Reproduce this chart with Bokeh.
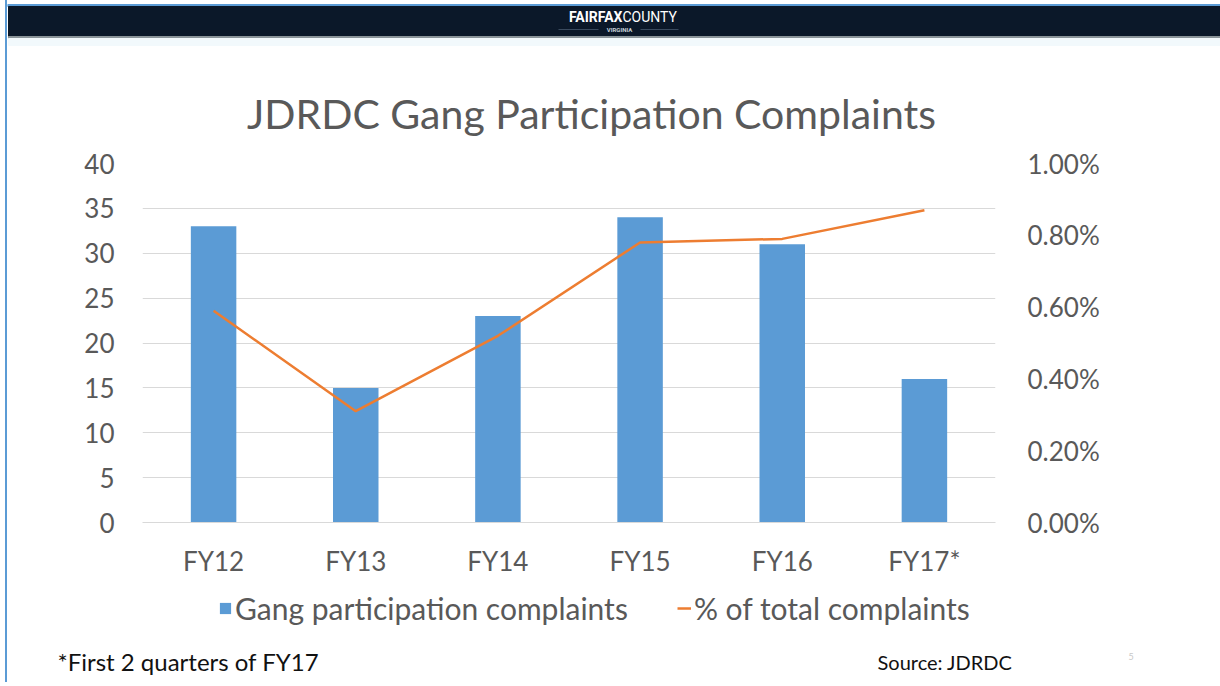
from bokeh.plotting import figure
from bokeh.models import (Range1d, FactorRange, LinearAxis, FixedTicker,
                          PrintfTickFormatter, Legend, LegendItem, ColumnDataSource)
from bokeh.layouts import column
from bokeh.embed import file_html
from bokeh.resources import INLINE
from bokeh.core.properties import value

# ---------------- data ----------------
categories = ["FY12", "FY13", "FY14", "FY15", "FY16", "FY17*"]
complaints = [33, 15, 23, 34, 31, 16]
pct_of_total = [0.59, 0.31, 0.52, 0.78, 0.79, 0.87]   # percent
left_ticks = [0, 5, 10, 15, 20, 25, 30, 35, 40]
right_ticks = [0.0, 0.2, 0.4, 0.6, 0.8, 1.0]
series_names = ["Gang participation complaints", "% of total complaints"]
title_text = "JDRDC Gang Participation Complaints"
footnote_text = "*First 2 quarters of FY17"
source_text = "Source: JDRDC"
page_number = "5"

# ---------------- style ----------------
OX = 7            # page x of figures' left edge (5px margin + 2px border)
W = 1213
FONT = "Lato"
GRAY = "#595959"
BLUE = "#5b9bd5"
ORANGE = "#ed7d31"
GRID = "#d9d9d9"


def blank(height):
    f = figure(width=W, height=height, x_range=Range1d(0, W), y_range=Range1d(height, 0),
               output_backend="svg", toolbar_location=None, min_border=0,
               x_axis_location=None, y_axis_location=None, frame_align=False)
    f.grid.visible = False
    f.outline_line_color = None
    f.background_fill_color = "white"
    f.border_fill_color = "white"
    return f


# ---------------- header (page y 0..140) ----------------
HH = 140
hdr = blank(HH)
hdr.quad(left=0, right=W, top=4, bottom=6, color=BLUE)
hdr.quad(left=1, right=W, top=6, bottom=36, color="#0b1829")
hdr.quad(left=1, right=W, top=36, bottom=38, color="#8a9499")
hdr.quad(left=1, right=W, top=38, bottom=45, color="#f2f9fc")
hdr.text(x=[622 - OX], y=[16], text=["FAIRFAX"], text_font=value("Roboto"),
         text_font_style="bold", text_font_size="14px", text_color="white",
         text_align="right", text_baseline="middle")
hdr.text(x=[622 - OX], y=[16], text=["COUNTY"], text_font=value("Roboto"),
         text_font_size="14px", text_color="white",
         text_align="left", text_baseline="middle")
hdr.text(x=[619 - OX], y=[29], text=["VIRGINIA"], text_font=value("Roboto"),
         text_font_style="bold", text_font_size="6px", text_color="#c9d3dc",
         text_align="center", text_baseline="middle")
hdr.segment(x0=[558 - OX, 640 - OX], x1=[598 - OX, 678 - OX], y0=[29, 29], y1=[29, 29],
            line_color="#3a4a5e", line_width=1)
hdr.text(x=[591 - OX], y=[113], text=[title_text], text_font=value(FONT),
         text_font_size="41px", text_color=GRAY, text_align="center",
         text_baseline="middle")

# ---------------- main chart (page y 140..585) ----------------
src = ColumnDataSource(dict(cat=categories, complaints=complaints, pct=pct_of_total))

p = figure(width=W, height=445, x_range=FactorRange(*categories, range_padding=0),
           y_range=Range1d(0, 40), output_backend="svg", toolbar_location=None,
           min_border_left=142 - OX, min_border_right=(OX + W) - 995,
           min_border_top=23, min_border_bottom=63, frame_align=False)
p.outline_line_color = None
p.background_fill_color = "white"
p.border_fill_color = "white"
p.extra_y_ranges = {"pct": Range1d(0, 1.0)}

bars = p.vbar(x="cat", top="complaints", width=0.32, source=src,
              fill_color=BLUE, line_color=None)
line = p.line(x="cat", y="pct", source=src, y_range_name="pct",
              line_color=ORANGE, line_width=2.5)

p.xgrid.visible = False
p.ygrid.grid_line_color = GRID
p.ygrid.grid_line_width = 1
p.ygrid.ticker = FixedTicker(ticks=left_ticks)

yax = p.yaxis[0]
yax.ticker = FixedTicker(ticks=left_ticks)
yax.axis_line_color = None
yax.major_tick_line_color = None
yax.minor_tick_line_color = None
yax.major_label_text_font = FONT
yax.major_label_text_font_size = "26px"
yax.major_label_text_color = GRAY
yax.major_label_standoff = 22

rax = LinearAxis(y_range_name="pct", ticker=FixedTicker(ticks=right_ticks),
                 formatter=PrintfTickFormatter(format="%.2f%%"))
rax.axis_line_color = None
rax.major_tick_line_color = None
rax.minor_tick_line_color = None
rax.major_label_text_font = FONT
rax.major_label_text_font_size = "26px"
rax.major_label_text_color = GRAY
rax.major_label_standoff = 26
p.add_layout(rax, "right")

xax = p.xaxis[0]
xax.axis_line_color = GRID
xax.major_tick_line_color = None
xax.minor_tick_line_color = None
xax.major_label_text_font = FONT
xax.major_label_text_font_size = "26px"
xax.major_label_text_color = GRAY
xax.major_label_standoff = 16

# ---------------- legend strip (page y 585..630) ----------------
# Same series, on a strip whose y-range lies above all values: only the legend shows.
LH = 45
leg = figure(width=W, height=LH, x_range=FactorRange(*categories, range_padding=0),
             y_range=Range1d(100, 140), output_backend="svg", toolbar_location=None,
             min_border=0, x_axis_location=None, y_axis_location=None, frame_align=False)
leg.grid.visible = False
leg.outline_line_color = None
leg.background_fill_color = "white"
leg.border_fill_color = "white"
leg_bar = leg.vbar(x="cat", top="complaints", width=0.32, source=src,
                   fill_color=BLUE, line_color=None)
leg_line = leg.line(x="cat", y="pct", source=src, line_color=ORANGE, line_width=2.5)
legend = Legend(items=[LegendItem(label=series_names[0], renderers=[leg_bar]),
                       LegendItem(label=series_names[1], renderers=[leg_line])],
                orientation="horizontal", location=(218 - OX, 4),
                label_text_font=FONT, label_text_font_size="30px",
                label_text_color=GRAY, glyph_width=14, glyph_height=14,
                label_standoff=3, spacing=49, border_line_color=None,
                background_fill_alpha=0, padding=0, margin=0)
leg.add_layout(legend, "center")

# ---------------- footer (page y 630..682) ----------------
FH = 52
ftr = blank(FH)
ftr.text(x=[57 - OX], y=[31], text=[footnote_text], text_font=value(FONT),
         text_font_size="24px", text_color="#111111", text_align="left",
         text_baseline="middle")
ftr.text(x=[877 - OX], y=[31], text=[source_text], text_font=value(FONT),
         text_font_size="20px", text_color="#111111", text_align="left",
         text_baseline="middle")
ftr.text(x=[1128 - OX], y=[26], text=[page_number], text_font=value(FONT),
         text_font_size="9px", text_color="#c8c8c8", text_align="left",
         text_baseline="middle")

layout = column(hdr, p, leg, ftr, spacing=0,
                styles={"border-left": "2px solid #5b9bd5", "margin-left": "5px"})
open("out.html", "w").write(file_html(layout, INLINE))
